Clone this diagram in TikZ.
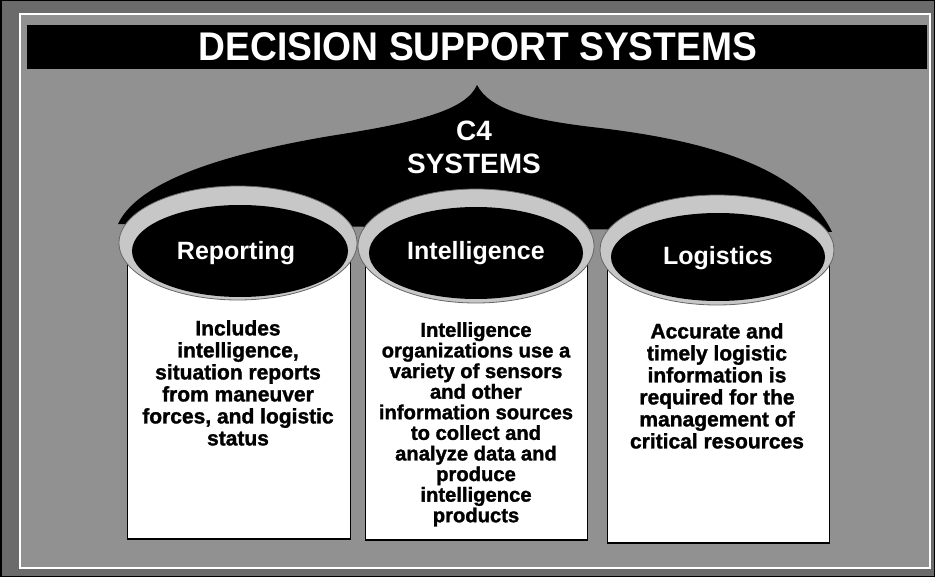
\documentclass[tikz,border=0pt]{standalone}
\usepackage{fontspec}
\setmainfont{Liberation Sans}
\newfontfamily\heavyfont{Liberation Sans}[BoldFeatures={FakeBold=1.4}]
\usetikzlibrary{shapes.geometric}
\tikzset{
  ringstyle/.style={ellipse, fill=black!22, draw=black!60, line width=0.8pt, inner sep=0pt},
  capstyle/.style={ellipse, fill=black, inner sep=0pt},
  bodystyle/.style={fill=white, draw=black, line width=1pt, inner sep=0pt, anchor=north west},
  lbl/.style={text=white, font=\bfseries\fontsize{25}{28}\selectfont},
  bodytext/.style={align=center, anchor=north, inner sep=0pt, text=black},
  bigtext/.style={font=\heavyfont\bfseries\fontsize{21}{22}\selectfont},
  smalltext/.style={font=\heavyfont\bfseries\fontsize{20.2}{20.6}\selectfont}
}
\begin{document}
\begin{tikzpicture}[x=1pt,y=-1pt]
\useasboundingbox (0,0) rectangle (935,577);
% background and frame
\fill[black!58] (0,0) rectangle (935,577);
\fill[black!43] (20,14) rectangle (930,568);
\draw[white, line width=1.2pt] (20,14) rectangle (930,568);
\draw[black, line width=1.5pt] (0.75,0.75) rectangle (934.25,576.25);
% title bar
\fill[black] (27,25) rectangle (927,69);
\node[text=white, font=\bfseries\fontsize{40}{40}\selectfont, inner sep=0pt] (title) at (478,47) {\scalebox{0.93}[1]{DECISION SUPPORT SYSTEMS}};
% C4 crown
\fill[black] (118,224) .. controls (135,188) and (200,158) .. (330,136)
  .. controls (420,122) and (466,110) .. (477,85)
  .. controls (490,110) and (530,120) .. (600,128)
  .. controls (700,140) and (800,165) .. (832,232) -- cycle;
\node[align=center, text=white, font=\bfseries\fontsize{28}{33}\selectfont, inner sep=0pt] (c4) at (474,147) {C4\\SYSTEMS};
% cylinder bodies
\node[bodystyle, minimum width=223pt, minimum height=293pt] (rbody) at (127,245) {};
\node[bodystyle, minimum width=222pt, minimum height=294pt] (ibody) at (365,245) {};
\node[bodystyle, minimum width=222pt, minimum height=292pt] (lbody) at (607,250) {};
\draw[black, line width=2.5pt] (rbody.south west) -- (rbody.south east);
\draw[black, line width=2.5pt] (ibody.south west) -- (ibody.south east);
\draw[black, line width=2.5pt] (lbody.south west) -- (lbody.south east);
% rings
\node[ringstyle, minimum width=238pt, minimum height=114pt] (rring) at (238,243) {};
\node[ringstyle, minimum width=236pt, minimum height=114pt] (iring) at (476,246) {};
\node[ringstyle, minimum width=234pt, minimum height=110pt] (lring) at (717,250) {};
% caps
\node[capstyle, minimum width=216pt, minimum height=92pt] (rcap) at (240,251) {};
\node[capstyle, minimum width=214pt, minimum height=92pt] (icap) at (476,253) {};
\node[capstyle, minimum width=214pt, minimum height=88pt] (lcap) at (718,257) {};
\node[lbl] (rlbl) at (236,253) {Reporting};
\node[lbl] (ilbl) at (476,253) {Intelligence};
\node[lbl] (llbl) at (718,258) {Logistics};
% body texts
\node[bodytext, bigtext] (rtext) at (238,320) {Includes\\intelligence,\\situation reports\\from maneuver\\forces, and logistic\\status};
\node[bodytext, smalltext] (itext) at (476,322) {Intelligence\\organizations use a\\variety of sensors\\and other\\information sources\\to collect and\\analyze data and\\produce\\intelligence\\products};
\node[bodytext, bigtext] (ltext) at (717,323) {Accurate and\\timely logistic\\information is\\required for the\\management of\\critical resources};
\end{tikzpicture}
\end{document}
